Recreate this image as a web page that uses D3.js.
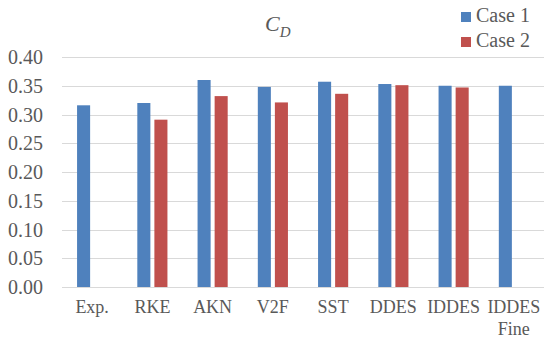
<!DOCTYPE html>
<html>
<head>
<meta charset="utf-8">
<script src="https://cdn.jsdelivr.net/npm/d3@7"></script>
<style>
  html, body { margin: 0; padding: 0; background: #fff; }
  svg { display: block; font-family: "Liberation Serif", "DejaVu Serif", serif; }
</style>
</head>
<body>
<div id="chart"></div>
<script>
const categories = ["Exp.", "RKE", "AKN", "V2F", "SST", "DDES", "IDDES", "IDDES\nFine"];
const series = ["Case 1", "Case 2"];
const case1 = [0.316, 0.320, 0.360, 0.348, 0.357, 0.353, 0.350, 0.350];
const case2 = [null, 0.291, 0.332, 0.321, 0.336, 0.351, 0.347, null];
const yTicks = [0, 0.05, 0.10, 0.15, 0.20, 0.25, 0.30, 0.35, 0.40];

const width = 550, height = 342;
const colors = { "Case 1": "#4F81BD", "Case 2": "#C0504D" };
const textColor = "#595959";

const svg = d3.select("#chart").append("svg")
  .attr("width", width).attr("height", height);

const x0 = d3.scaleBand().domain(categories).range([62, 544]);
const x1 = d3.scaleBand().domain(series)
  .range([x0.bandwidth() * 0.25, x0.bandwidth() * 0.75])
  .paddingInner(0.235);
const y = d3.scaleLinear().domain([0, 0.4]).range([287, 57]);

// gridlines
svg.append("g")
  .selectAll("line")
  .data(yTicks)
  .join("line")
  .attr("x1", 62).attr("x2", 544)
  .attr("y1", (d) => Math.round(y(d)) + 0.5)
  .attr("y2", (d) => Math.round(y(d)) + 0.5)
  .attr("stroke", "#D9D9D9")
  .attr("stroke-width", 1);

// y tick labels
svg.append("g")
  .selectAll("text")
  .data(yTicks)
  .join("text")
  .attr("x", 43)
  .attr("y", (d) => y(d) + 7)
  .attr("text-anchor", "end")
  .attr("fill", textColor)
  .style("font-size", "20px")
  .text((d) => d3.format(".2f")(d));

// bars
const rows = categories.map((c, i) => ({ cat: c, values: [
  { key: "Case 1", value: case1[i] },
  { key: "Case 2", value: case2[i] },
].filter((v) => v.value != null) }));

const groups = svg.append("g")
  .selectAll("g")
  .data(rows)
  .join("g")
  .attr("transform", (d) => `translate(${x0(d.cat)},0)`);

groups.selectAll("rect")
  .data((d) => d.values)
  .join("rect")
  .attr("x", (d) => x1(d.key))
  .attr("width", x1.bandwidth())
  .attr("y", (d) => y(d.value))
  .attr("height", (d) => y(0) - y(d.value))
  .attr("fill", (d) => colors[d.key]);

// category labels
const catLabels = svg.append("g")
  .selectAll("text")
  .data(categories)
  .join("text")
  .attr("x", (d) => x0(d) + x0.bandwidth() / 2)
  .attr("y", 313)
  .attr("text-anchor", "middle")
  .attr("fill", textColor)
  .style("font-size", "18px");

catLabels.selectAll("tspan")
  .data((d) => d.split("\n"))
  .join("tspan")
  .attr("x", function () { return d3.select(this.parentNode).attr("x"); })
  .attr("dy", (d, i) => (i === 0 ? 0 : 21.7))
  .text((d) => d);

// title
const title = svg.append("text")
  .attr("x", 265)
  .attr("y", 31)
  .attr("fill", textColor)
  .style("font-size", "22px")
  .style("font-style", "italic");
title.append("tspan").text("C");
title.append("tspan")
  .attr("dy", 6)
  .style("font-size", "15px")
  .text("D");

// legend
const legend = svg.append("g")
  .selectAll("g")
  .data(series)
  .join("g")
  .attr("transform", (d, i) => `translate(461,${12 + i * 25})`);

legend.append("rect")
  .attr("width", 10).attr("height", 10)
  .attr("fill", (d) => colors[d]);

legend.append("text")
  .attr("x", 15)
  .attr("y", 10)
  .attr("fill", textColor)
  .style("font-size", "20px")
  .text((d) => d);
</script>
</body>
</html>
